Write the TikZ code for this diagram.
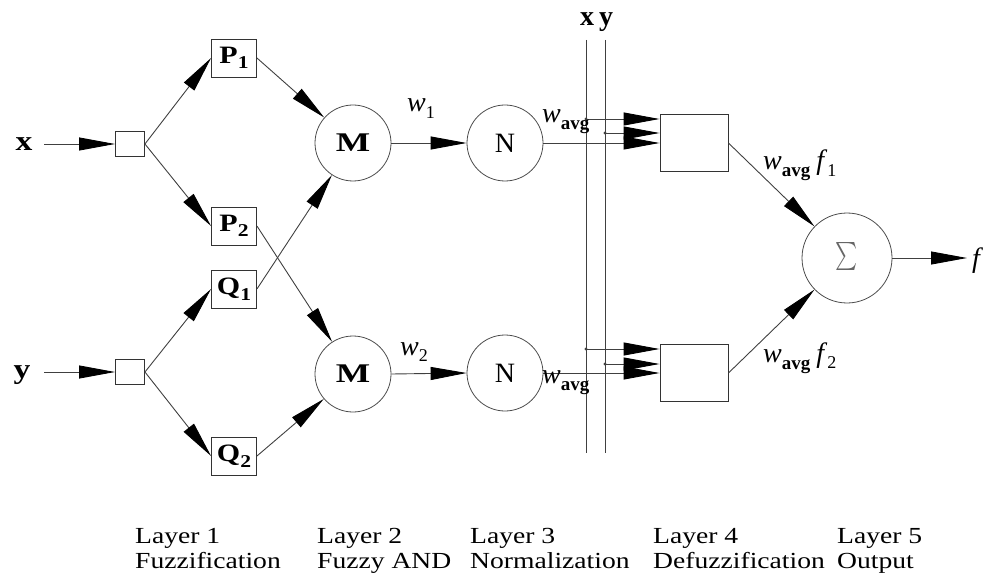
\documentclass[tikz,border=0pt]{standalone}
\usepackage{fontspec}
\usepackage{graphicx}
\setmainfont{Liberation Serif}
\usetikzlibrary{arrows.meta}
\newcommand\lsub[1]{\raisebox{-0.22em}{\fontsize{18}{18}\selectfont #1}}
\newcommand\avgsub{\raisebox{-7pt}{\fontsize{19}{19}\selectfont\bfseries avg}}
\newcommand\wide[1]{\scalebox{1.2}[1]{#1}}
\begin{document}
\begin{tikzpicture}[x=1pt,y=-1pt,
  ln/.style={draw=black!75, line width=0.9pt},
  arr/.style={ln, -{Triangle[length=36pt,width=13pt,color=black]}},
  sbox/.style={draw=black!80, line width=0.9pt, minimum width=29pt, minimum height=25pt, inner sep=0pt},
  mbox/.style={draw=black!80, line width=0.9pt, minimum width=45pt, minimum height=38pt, inner sep=0pt, font=\fontsize{25}{27}\selectfont\bfseries},
  circ/.style={circle, draw=black!70, line width=0.8pt, minimum size=76pt, inner sep=0pt, font=\fontsize{28}{30}\selectfont},
  dbox/.style={draw=black!80, line width=0.9pt, minimum width=68pt, minimum height=57pt, inner sep=0pt},
  lbl/.style={inner sep=0pt, font=\fontsize{28}{30}\selectfont},
  io/.style={inner sep=0pt, font=\fontsize{28}{30}\selectfont\bfseries},
  layer/.style={inner sep=0pt, anchor=base west, font=\fontsize{23}{25}\selectfont}
]
\useasboundingbox (0,0) rectangle (992,577);

% inputs
\node[io] (xl) at (24,144) {\wide{x}};
\node[io, anchor=base] (yl) at (22,378) {\wide{y}};
\coordinate (xs) at (44,144);
\coordinate (ys) at (44,372);
\node[sbox] (bx) at (130,144) {};
\node[sbox] (by) at (130,372) {};

% layer 1
\node[mbox] (P1) at (234,58) {\wide{P\lsub{1}}};
\node[mbox] (P2) at (234,226) {\wide{P\lsub{2}}};
\node[mbox] (Q1) at (234,289) {\wide{Q\lsub{1}}};
\node[mbox] (Q2) at (234,456) {\wide{Q\lsub{2}}};

% layer 2, 3
\node[circ, font=\fontsize{27}{30}\selectfont\bfseries] (M1) at (353,143) {\scalebox{1.35}[1]{M}};
\node[circ, font=\fontsize{27}{30}\selectfont\bfseries] (M2) at (353,374) {\scalebox{1.35}[1]{M}};
\node[circ] (N1) at (505,143) {N};
\node[circ] (N2) at (505,373) {N};

% layer 4, 5
\node[dbox] (D1) at (694,143) {};
\node[dbox] (D2) at (694,373) {};
\node[circ, minimum size=90pt] (S) at (847,258) {\color{black!60}\scalebox{2.1}[2.8]{$\sum$}};
\coordinate (fo) at (967,258);
\node[lbl, anchor=base west] (fl) at (972,267) {\textit{f}};

% buses
\node[io, anchor=base] (bxl) at (587,26) {x};
\node[io, anchor=base] (byl) at (606,26) {y};
\coordinate (xt) at (586,40);
\coordinate (xb) at (586,453);
\coordinate (yt) at (605,40);
\coordinate (yb) at (605,453);
\draw[ln] (xt) -- (xb);
\draw[ln] (yt) -- (yb);

% connectors
\draw[arr] (xs) -- (bx.west);
\draw[arr] (ys) -- (by.west);
\draw[arr] (bx.east) -- (P1.west);
\draw[arr] (bx.east) -- (P2.west);
\draw[arr] (by.east) -- (Q1.west);
\draw[arr] (by.east) -- (Q2.west);
\draw[arr] (P1.east) -- (M1);
\draw[arr] (P2.east) -- (M2);
\draw[arr] (Q1.east) -- (M1);
\draw[arr] (Q2.east) -- (M2);
\draw[arr] (M1.east) -- (N1.west);
\draw[arr] (M2.east) -- (N2.west);
\draw[arr] (N1.east) -- (D1.west);
\draw[arr] (N2.east) -- (D2.west);

\coordinate (a1) at (586,119);
\coordinate (b1) at (605,133);
\coordinate (a2) at (586,349);
\coordinate (b2) at (605,364);
\draw[arr] (a1) -- (a1 -| D1.west);
\draw[arr] (b1) -- (b1 -| D1.west);
\draw[arr] (a2) -- (a2 -| D2.west);
\draw[arr] (b2) -- (b2 -| D2.west);
\fill[black!75] (a1) circle (1.6) (b1) circle (1.6) (a2) circle (1.6) (b2) circle (1.6);

\draw[arr] (D1.east) -- (S);
\draw[arr] (D2.east) -- (S);
\draw[arr] (S.east) -- (fo);

% weight labels
\node[lbl, anchor=base west] (w1) at (407,112) {\textit{w}\lsub{1}};
\node[lbl, anchor=base west] (w2) at (400,355) {\textit{w}\lsub{2}};
\node[lbl, anchor=base west] (wa1) at (542,123) {\textit{w}\avgsub};
\node[lbl, anchor=base west] (wa2) at (542,383) {\textit{w}\avgsub};
\node[lbl, anchor=base west] (wf1) at (763,170) {\textit{w}\avgsub\hspace{6pt}\textit{f}\lsub{1}};
\node[lbl, anchor=base west] (wf2) at (763,362) {\textit{w}\avgsub\hspace{6pt}\textit{f}\lsub{2}};

% layer captions
\node[layer] (l1a) at (135,543) {\wide{Layer 1}};
\node[layer] (l1b) at (135,568) {\wide{Fuzzification}};
\node[layer] (l2a) at (317,543) {\wide{Layer 2}};
\node[layer] (l2b) at (317,568) {\wide{Fuzzy AND}};
\node[layer] (l3a) at (470,543) {\wide{Layer 3}};
\node[layer] (l3b) at (470,568) {\wide{Normalization}};
\node[layer] (l4a) at (653,543) {\wide{Layer 4}};
\node[layer] (l4b) at (653,568) {\wide{Defuzzification}};
\node[layer] (l5a) at (837,543) {\wide{Layer 5}};
\node[layer] (l5b) at (837,568) {\wide{Output}};
\end{tikzpicture}
\end{document}
